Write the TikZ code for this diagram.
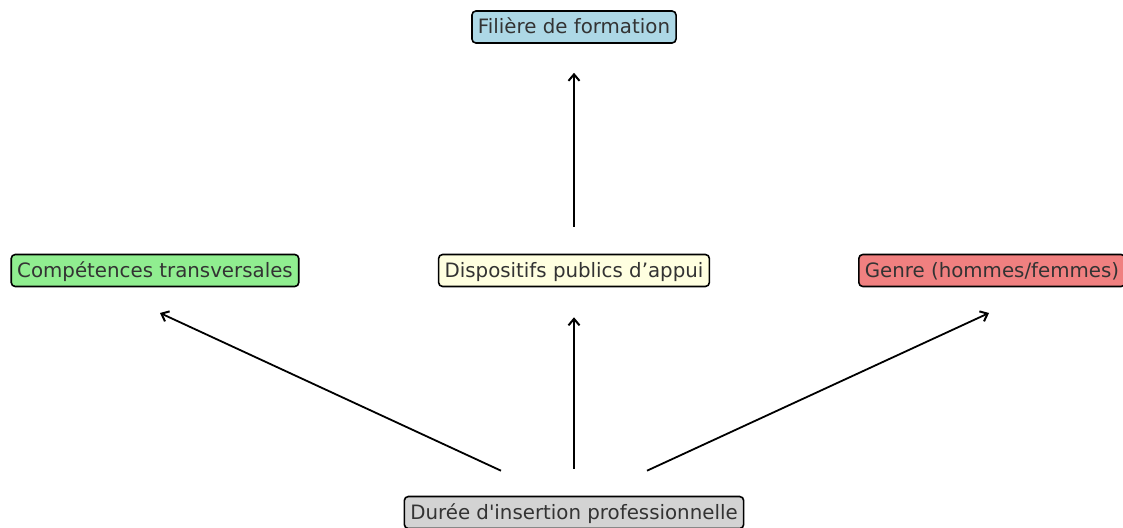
\documentclass[tikz,border=0pt]{standalone}
\usepackage{fontspec}
\setmainfont{DejaVu Sans}
\usetikzlibrary{arrows.meta,calc}
\definecolor{txt}{HTML}{333333}
\definecolor{cblue}{HTML}{ADD8E6}
\definecolor{cgreen}{HTML}{90EE90}
\definecolor{cyellow}{HTML}{FFFFE0}
\definecolor{ccoral}{HTML}{F08080}
\definecolor{cgray}{HTML}{D3D3D3}
\tikzset{
  lbox/.style={draw=black, line width=1.6pt, rounded corners=4pt, text=txt,
    font=\fontsize{19.8}{22}\selectfont, inner xsep=6pt, inner ysep=0pt,
    minimum height=32pt, text height=16.5pt, text depth=3pt},
  arr/.style={-{Straight Barb[length=6.5pt,width=11pt,line width=2pt]}, line width=1.8pt, black}
}
\begin{document}
\begin{tikzpicture}[x=1pt,y=-1pt]
\useasboundingbox (0,0) rectangle (1123,527);
\node[lbox, fill=cblue] (fil) at (574,27) {Filière de formation};
\node[lbox, fill=cgreen] (comp) at (155,270.5) {Compétences transversales};
\node[lbox, fill=cyellow] (disp) at (574,270.5) {Dispositifs publics d’appui};
\node[lbox, fill=ccoral, anchor=west] (gen) at (858,270.5) {Genre (hommes/femmes)};
\node[lbox, fill=cgray] (dur) at (574,512.5) {Durée d\textquotesingle insertion professionnelle};
% arrow end points
\coordinate (d1) at ($(dur.north)+(-73,-25)$);
\coordinate (d2) at ($(dur.north)+(0,-27)$);
\coordinate (d3) at ($(dur.north)+(73,-25)$);
\coordinate (c1) at (160,313);
\coordinate (c2) at ($(disp.south)+(0,30)$);
\coordinate (c3) at (989,313);
\coordinate (p1) at ($(disp.north)+(0,-27)$);
\coordinate (f1) at ($(fil.south)+(0,29)$);
\draw[arr] (p1) -- (f1);
\draw[arr] (d1) -- (c1);
\draw[arr] (d2) -- (c2);
\draw[arr] (d3) -- (c3);
\end{tikzpicture}
\end{document}
